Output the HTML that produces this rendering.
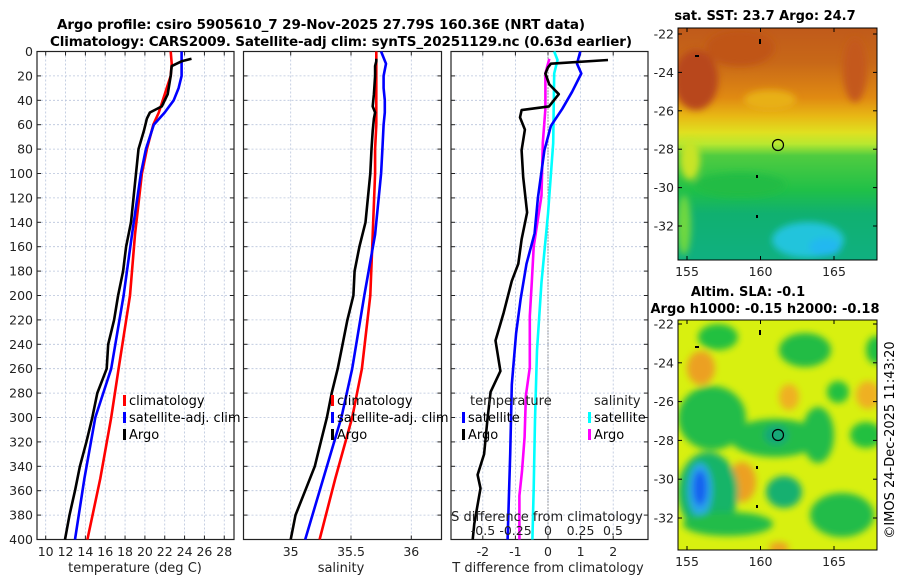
<!DOCTYPE html>
<html><head><meta charset="utf-8">
<style>
html,body{margin:0;padding:0;background:#fff;}
svg{display:block;font-family:"DejaVu Sans","Liberation Sans",sans-serif;}
</style></head>
<body>
<svg id="fig" width="900" height="580" viewBox="0 0 900 580" xmlns="http://www.w3.org/2000/svg">
<defs>
<filter id="blur6" x="-50%" y="-50%" width="200%" height="200%"><feGaussianBlur stdDeviation="3.5"/></filter>
<linearGradient id="sstGrad" x1="0" y1="0" x2="0" y2="1">
<stop offset="0" stop-color="#c05a1a"/><stop offset="0.15" stop-color="#c86818"/>
<stop offset="0.3" stop-color="#e08a12"/><stop offset="0.38" stop-color="#e8b814"/>
<stop offset="0.45" stop-color="#e0e020"/><stop offset="0.5" stop-color="#b8e830"/>
<stop offset="0.55" stop-color="#50cc40"/><stop offset="0.7" stop-color="#20c048"/>
<stop offset="0.8" stop-color="#10b070"/><stop offset="1" stop-color="#10b080"/></linearGradient>
<clipPath id="clipTop"><rect x="678" y="28" width="199" height="232"/></clipPath>
<clipPath id="clipBot"><rect x="678" y="320" width="199" height="230"/></clipPath>
<clipPath id="clipP1"><rect x="37" y="51" width="197" height="489"/></clipPath>
<clipPath id="clipP2"><rect x="243.5" y="51" width="198" height="489"/></clipPath>
<clipPath id="clipP3"><rect x="451" y="51" width="197" height="489"/></clipPath>
</defs>

<text x="321" y="29" font-size="13.5" font-weight="bold" text-anchor="middle" textLength="528">Argo profile: csiro 5905610_7 29-Nov-2025 27.79S 160.36E (NRT data)</text>
<text x="341" y="46" font-size="13.5" font-weight="bold" text-anchor="middle" textLength="582">Climatology: CARS2009. Satellite-adj clim: synTS_20251129.nc (0.63d earlier)</text>

<g id="p1"></g>
<g id="p2"></g>
<g id="p3"></g>

<!-- SST map -->
<g>
<text x="765" y="20" font-size="13" font-weight="bold" text-anchor="middle">sat. SST: 23.7 Argo: 24.7</text>
<g clip-path="url(#clipTop)">
<rect x="678" y="28" width="199" height="232" fill="url(#sstGrad)"/>
<g filter="url(#blur6)">
<ellipse cx="696" cy="80" rx="22" ry="30" fill="#b8461a"/>
<ellipse cx="740" cy="48" rx="34" ry="18" fill="#c05418"/>
<ellipse cx="855" cy="70" rx="12" ry="32" fill="#c4581a"/>
<ellipse cx="770" cy="100" rx="26" ry="10" fill="#e8b014"/>
<ellipse cx="690" cy="160" rx="10" ry="20" fill="#c8e428"/>
<ellipse cx="684" cy="225" rx="7" ry="30" fill="#70d840"/>
<ellipse cx="808" cy="240" rx="36" ry="18" fill="#22c4dc"/>
<ellipse cx="825" cy="247" rx="16" ry="9" fill="#22b8f0"/>
<ellipse cx="740" cy="185" rx="45" ry="12" fill="#20bc44"/>
</g></g>
<rect x="678" y="28" width="199" height="232" fill="none" stroke="#000" stroke-width="1"/>
<circle cx="778" cy="145" r="5.5" fill="none" stroke="#000" stroke-width="1.2"/>
<rect x="695" y="55" width="4" height="2" fill="#000"/><rect x="759" y="39" width="2" height="5" fill="#000"/>
<rect x="756" y="175" width="2" height="3" fill="#000"/><rect x="756" y="215" width="2" height="3" fill="#000"/>
<g id="topTicks"></g>
</g>

<!-- SLA map -->
<g>
<text x="748" y="296" font-size="13" font-weight="bold" text-anchor="middle">Altim. SLA: -0.1</text>
<text x="765" y="313" font-size="13" font-weight="bold" text-anchor="middle">Argo h1000: -0.15 h2000: -0.18</text>
<g clip-path="url(#clipBot)">
<rect x="678" y="320" width="199" height="230" fill="#d8f010"/>
<g filter="url(#blur6)">
<ellipse cx="701" cy="368" rx="14" ry="17" fill="#eca020"/>
<ellipse cx="789" cy="397" rx="10" ry="13" fill="#efb020"/>
<ellipse cx="868" cy="395" rx="12" ry="14" fill="#efb020"/>
<ellipse cx="742" cy="482" rx="14" ry="20" fill="#eca020"/>
<ellipse cx="779" cy="548" rx="10" ry="6" fill="#eca020"/>
<ellipse cx="718" cy="337" rx="20" ry="13" fill="#22c040"/>
<ellipse cx="805" cy="350" rx="26" ry="17" fill="#20bc44"/>
<ellipse cx="876" cy="350" rx="10" ry="14" fill="#22c040"/>
<ellipse cx="838" cy="392" rx="11" ry="11" fill="#22c040"/>
<ellipse cx="712" cy="418" rx="34" ry="32" fill="#20bc48"/>
<ellipse cx="775" cy="438" rx="45" ry="19" fill="#20bc48"/>
<ellipse cx="818" cy="435" rx="16" ry="28" fill="#20bc48"/>
<ellipse cx="866" cy="435" rx="16" ry="13" fill="#22c040"/>
<ellipse cx="708" cy="492" rx="30" ry="40" fill="#14b468"/>
<ellipse cx="700" cy="490" rx="12" ry="27" fill="#2aa8e8"/>
<ellipse cx="700" cy="488" rx="7" ry="18" fill="#1860f0"/>
<ellipse cx="728" cy="524" rx="45" ry="12" fill="#20bc48"/>
<ellipse cx="784" cy="492" rx="18" ry="16" fill="#14b070"/>
<ellipse cx="842" cy="515" rx="32" ry="22" fill="#20bc48"/>
<ellipse cx="776" cy="435" rx="12" ry="10" fill="#14a878"/>
</g></g>
<rect x="678" y="320" width="199" height="230" fill="none" stroke="#000" stroke-width="1"/>
<circle cx="778" cy="435" r="5.5" fill="none" stroke="#000" stroke-width="1.2"/>
<rect x="695" y="346" width="4" height="2" fill="#000"/><rect x="759" y="330" width="2" height="5" fill="#000"/>
<rect x="756" y="466" width="2" height="3" fill="#000"/><rect x="756" y="505" width="2" height="3" fill="#000"/>
<g id="botTicks"></g>
</g>
<text transform="translate(894,440) rotate(-90)" font-size="13" text-anchor="middle">©IMOS 24-Dec-2025 11:43:20</text>
</svg>

<script>
// ---- data ----
const climDepth = [0,10,20,30,40,50,60,80,100,150,200,260,300,350,400];
const climTemp  = [22.6,22.7,22.6,22.2,21.8,21.4,20.85,20.2,19.7,19.0,18.5,17.35,16.6,15.5,14.2];
const satTemp   = [23.7,23.7,23.7,23.4,22.9,22.0,20.9,20.1,19.6,18.7,17.85,16.6,15.0,13.9,12.95];
const climSal   = [35.71,35.71,35.71,35.71,35.71,35.71,35.71,35.70,35.70,35.68,35.66,35.59,35.51,35.37,35.24];
const satSal    = [35.75,35.79,35.77,35.77,35.78,35.78,35.77,35.76,35.75,35.70,35.61,35.51,35.42,35.27,35.12];

const argoDepth = [6,8,12,20,35,45,50,55,65,80,100,140,160,180,200,220,240,260,280,300,320,340,360,380,400];
const argoTemp  = [24.7,23.7,22.7,22.6,22.3,21.7,20.5,20.2,19.9,19.35,19.1,18.6,18.1,17.8,17.3,16.9,16.3,16.15,15.2,14.7,14.1,13.45,12.95,12.4,11.95];
const argoSal   = [35.71,35.71,35.70,35.70,35.69,35.68,35.70,35.69,35.68,35.67,35.66,35.62,35.57,35.53,35.52,35.47,35.43,35.39,35.34,35.30,35.25,35.20,35.12,35.04,35.0];

const argoTdiffDepth = [7,10,13,18,27,35,45,48,54,64,81,103,132,154,174,188,214,237,262,279,302,330,347,358,387,400];
const argoTdiff      = [1.84,0.09,0,-0.08,0.04,0.33,0.03,-0.81,-0.86,-0.71,-0.81,-0.76,-0.64,-0.81,-0.91,-1.11,-1.36,-1.61,-1.46,-1.76,-1.86,-1.96,-2.16,-2.07,-2.26,-2.31];
const satTdiffDepth  = [0,10,18,33,47,61,81,120,149,174,203,231,273,330,400];
const satTdiff       = [0.99,0.89,1.02,0.74,0.44,0.09,-0.11,-0.31,-0.41,-0.66,-0.84,-0.98,-1.11,-1.16,-1.24];
const satSdiffDepth  = [0,7,18,75,133,189,245,302,358,400];
const satSdiff       = [0.048,0.073,0.048,0.04,0,-0.05,-0.085,-0.10,-0.11,-0.12];
const argoSdiffDepth = [6,18,47,75,118,146,160,189,217,259,282,316,344,364,400];
const argoSdiff      = [0.01,-0.02,-0.02,-0.04,-0.05,-0.09,-0.11,-0.125,-0.14,-0.14,-0.17,-0.18,-0.20,-0.22,-0.22];

const depthTicks = [0,20,40,60,80,100,120,140,160,180,200,220,240,260,280,300,320,340,360,380,400];
const tempTicks  = [10,12,14,16,18,20,22,24,26,28];
const salTicks   = [35,35.5,36];
const salTickLabels = ['35','35.5','36'];
const tdiffTicks = [-2,-1,0,1,2];
const sdiffTicks = [-0.5,-0.25,0,0.25,0.5];
const sdiffTickLabels = ['-0.5','-0.25','0','0.25','0.5'];
const latTicks = [-22,-24,-26,-28,-30,-32];
const lonTicks = [155,160,165];

// ---- axis functions ----
const yD  = d => 51.5 + d*1.22;
const xT  = t => 45.7 + 9.92*(t-10);
const xS  = s => 290.7 + 120.6*(s-35);
const xTd = v => 548 + 32.6*v;
const xSd = v => 548 + 130*v;
const lonX = lon => 687 + 14.7*(lon-155);
const latYTop = lat => 34 + 19.2*(-22-lat);
const latYBot = lat => 324 + 19.4*(-22-lat);

const NS = 'http://www.w3.org/2000/svg';
function mk(tag, attrs, parent){ const e=document.createElementNS(NS,tag); for(const k in attrs) e.setAttribute(k,attrs[k]); parent.appendChild(e); return e; }
function txt(s, attrs, parent){ const e=mk('text',attrs,parent); e.textContent=s; return e; }

function panelFrame(g, x0, x1, xTicksPx){
  depthTicks.forEach(d=>{
    const l=mk('line',{x1:x0,x2:x1,y1:yD(d),y2:yD(d),stroke:'#b8c4dc','stroke-width':0.8,'stroke-dasharray':'2,2'},g);
    
    
  });
  xTicksPx.forEach(x=>{
    const l=mk('line',{x1:x,x2:x,y1:51.5,y2:539.5,stroke:'#b8c4dc','stroke-width':0.8,'stroke-dasharray':'2,2'},g);
    
    
  });
  depthTicks.forEach(d=>{
    mk('line',{x1:x0,x2:x0+4,y1:yD(d),y2:yD(d),stroke:'#222','stroke-width':1},g);
    mk('line',{x1:x1-4,x2:x1,y1:yD(d),y2:yD(d),stroke:'#222','stroke-width':1},g);
  });
  xTicksPx.forEach(x=>{
    mk('line',{x1:x,x2:x,y1:539.5,y2:535.5,stroke:'#222','stroke-width':1},g);
    mk('line',{x1:x,x2:x,y1:51.5,y2:55.5,stroke:'#222','stroke-width':1},g);
  });
  const r=mk('rect',{x:x0,y:51.5,width:x1-x0,height:488,fill:'none',stroke:'#222','stroke-width':1.2},g);
  
  
}

function line(g, depths, vals, xf, color, name, clipId){
  const pts = depths.map((d,i)=>xf(vals[i]).toFixed(1)+','+yD(d).toFixed(1)).join(' ');
  const p=mk('polyline',{points:pts,fill:'none',stroke:color,'stroke-width':2.6,'stroke-linejoin':'round','clip-path':'url(#'+clipId+')'},g);
  
  
}

function legendEntry(g, x, y, color, label, name){
  const grp=mk('g',{},g);
  
  
  mk('rect',{x:x,y:y-10,width:3,height:11,fill:color},grp);
  txt(label,{x:x+6,y:y,'font-size':13},grp);
}

// Panel 1
const p1=document.getElementById('p1');
panelFrame(p1,37,234,tempTicks.map(xT));
depthTicks.forEach(d=>{
  const t=txt(String(d),{x:33,y:yD(d)+4.5,'font-size':12.5,'text-anchor':'end',fill:'#222'},p1);
  
  
});
tempTicks.forEach(v=>{
  const t=txt(String(v),{x:xT(v),y:556,'font-size':12.5,'text-anchor':'middle',fill:'#222'},p1);
  
  
});
txt('temperature (deg C)',{x:135,y:572,'font-size':13,'text-anchor':'middle',fill:'#222'},p1);
line(p1,climDepth,climTemp,xT,'#ff0000','climatology-temperature-line','clipP1');
line(p1,climDepth,satTemp,xT,'#0000ff','satellite-temperature-line','clipP1');
line(p1,argoDepth,argoTemp,xT,'#000000','argo-temperature-line','clipP1');
legendEntry(p1,123,405,'#ff0000','climatology','legend-climatology');
legendEntry(p1,123,422,'#0000ff','satellite-adj. clim','legend-satellite-adj');
legendEntry(p1,123,439,'#000000','Argo','legend-argo');

// Panel 2
const p2=document.getElementById('p2');
panelFrame(p2,243.5,441.5,salTicks.map(xS));
salTicks.forEach((v,i)=>{
  const t=txt(salTickLabels[i],{x:xS(v),y:556,'font-size':12.5,'text-anchor':'middle',fill:'#222'},p2);
  
  
});
txt('salinity',{x:341,y:572,'font-size':13,'text-anchor':'middle',fill:'#222'},p2);
line(p2,climDepth,climSal,xS,'#ff0000','climatology-salinity-line','clipP2');
line(p2,climDepth,satSal,xS,'#0000ff','satellite-salinity-line','clipP2');
line(p2,argoDepth,argoSal,xS,'#000000','argo-salinity-line','clipP2');
legendEntry(p2,331,405,'#ff0000','climatology','legend-climatology-sal');
legendEntry(p2,331,422,'#0000ff','satellite-adj. clim','legend-satellite-adj-sal');
legendEntry(p2,331,439,'#000000','Argo','legend-argo-sal');

// Panel 3
const p3=document.getElementById('p3');
panelFrame(p3,451,648,tdiffTicks.map(xTd));
const zl=mk('line',{x1:xTd(0),x2:xTd(0),y1:51.5,y2:539.5,stroke:'#555','stroke-width':1,'stroke-dasharray':'1,2'},p3);


tdiffTicks.forEach(v=>{
  const t=txt(String(v),{x:xTd(v),y:556,'font-size':12.5,'text-anchor':'middle',fill:'#222'},p3);
  
  
});
txt('T difference from climatology',{x:548,y:572,'font-size':13,'text-anchor':'middle',fill:'#222'},p3);
line(p3,satSdiffDepth,satSdiff,xSd,'#00ffff','satellite-salinity-difference-line','clipP3');
line(p3,argoSdiffDepth,argoSdiff,xSd,'#ff00ff','argo-salinity-difference-line','clipP3');
line(p3,satTdiffDepth,satTdiff,xTd,'#0000ff','satellite-temperature-difference-line','clipP3');
line(p3,argoTdiffDepth,argoTdiff,xTd,'#000000','argo-temperature-difference-line','clipP3');
txt('temperature',{x:470,y:405,'font-size':13,fill:'#222'},p3);
txt('salinity',{x:594,y:405,'font-size':13,fill:'#222'},p3);
legendEntry(p3,462,422,'#0000ff','satellite','legend-temperature-satellite');
legendEntry(p3,462,439,'#000000','Argo','legend-temperature-argo');
legendEntry(p3,588,422,'#00ffff','satellite','legend-salinity-satellite');
legendEntry(p3,588,439,'#ff00ff','Argo','legend-salinity-argo');
txt('S difference from climatology',{x:547,y:521,'font-size':13,'text-anchor':'middle',fill:'#222'},p3);
sdiffTicks.forEach((v,i)=>{
  const t=txt(sdiffTickLabels[i],{x:xSd(v),y:535,'font-size':12.5,'text-anchor':'middle',fill:'#222'},p3);
  
  
});

// Map ticks
function mapTicks(gid, latY, yBottom, yTop){
  const g=document.getElementById(gid);
  latTicks.forEach(l=>{
    const y=latY(l);
    mk('line',{x1:678,x2:682,y1:y,y2:y,stroke:'#000'},g);
    mk('line',{x1:873,x2:877,y1:y,y2:y,stroke:'#000'},g);
    const t=txt(String(l),{x:674,y:y+4.5,'font-size':12.5,'text-anchor':'end',fill:'#222'},g);
    
    
  });
  lonTicks.forEach(l=>{
    const x=lonX(l);
    mk('line',{x1:x,x2:x,y1:yBottom,y2:yBottom-4,stroke:'#000'},g);
    mk('line',{x1:x,x2:x,y1:yTop,y2:yTop+4,stroke:'#000'},g);
    const t=txt(String(l),{x:x,y:yBottom+16,'font-size':12.5,'text-anchor':'middle',fill:'#222'},g);
    
    
  });
}
mapTicks('topTicks',latYTop,260,28);
mapTicks('botTicks',latYBot,550,320);
</script>
</body></html>
